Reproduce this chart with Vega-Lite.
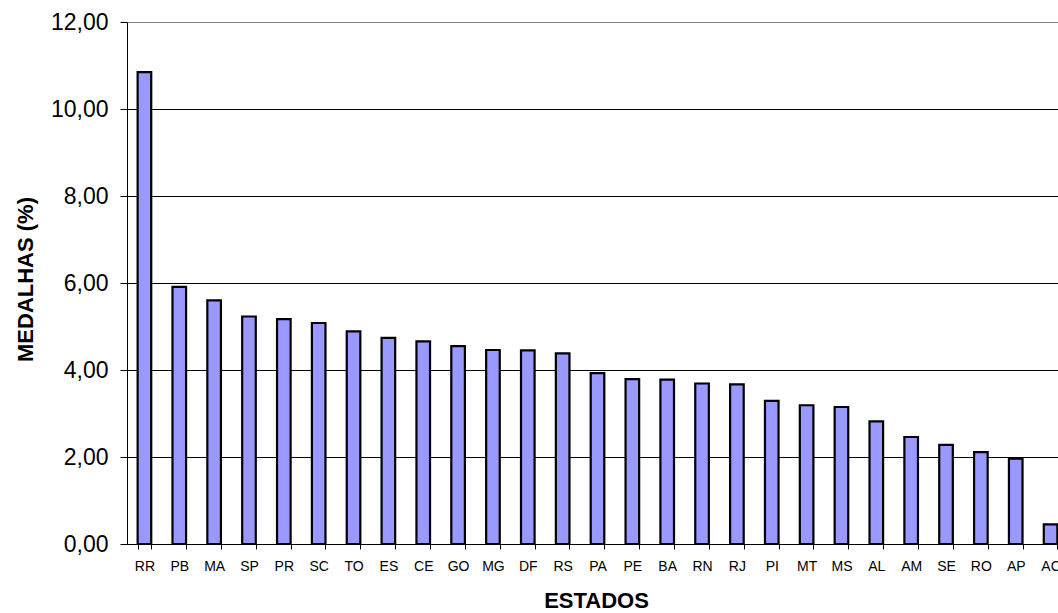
{
  "$schema": "https://vega.github.io/schema/vega-lite/v6.json",
  "width": 931,
  "height": 522,
  "autosize": {"type": "none"},
  "padding": {"left": 127, "top": 22, "right": 0, "bottom": 69},
  "background": "white",
  "view": {"stroke": null},
  "config": {"font": "Liberation Sans"},
  "data": {
    "values": [
      {"estado": "RR", "medalhas": 10.85},
      {"estado": "PB", "medalhas": 5.91},
      {"estado": "MA", "medalhas": 5.60},
      {"estado": "SP", "medalhas": 5.23},
      {"estado": "PR", "medalhas": 5.17},
      {"estado": "SC", "medalhas": 5.08},
      {"estado": "TO", "medalhas": 4.89},
      {"estado": "ES", "medalhas": 4.74},
      {"estado": "CE", "medalhas": 4.66},
      {"estado": "GO", "medalhas": 4.55},
      {"estado": "MG", "medalhas": 4.46},
      {"estado": "DF", "medalhas": 4.45},
      {"estado": "RS", "medalhas": 4.38},
      {"estado": "PA", "medalhas": 3.93},
      {"estado": "PE", "medalhas": 3.79},
      {"estado": "BA", "medalhas": 3.78},
      {"estado": "RN", "medalhas": 3.69},
      {"estado": "RJ", "medalhas": 3.67},
      {"estado": "PI", "medalhas": 3.29},
      {"estado": "MT", "medalhas": 3.19},
      {"estado": "MS", "medalhas": 3.15},
      {"estado": "AL", "medalhas": 2.82},
      {"estado": "AM", "medalhas": 2.46},
      {"estado": "SE", "medalhas": 2.28},
      {"estado": "RO", "medalhas": 2.11},
      {"estado": "AP", "medalhas": 1.96},
      {"estado": "AC", "medalhas": 0.45}
    ]
  },
  "mark": {"type": "bar", "fill": "#9999FF", "stroke": "black", "strokeWidth": 2.2, "clip": true},
  "encoding": {
    "x": {
      "field": "estado",
      "type": "nominal",
      "sort": null,
      "scale": {"range": [0, 941], "paddingInner": 0.61, "paddingOuter": 0.305},
      "axis": {
        "title": "ESTADOS",
        "labelAngle": 0,
        "labelFontSize": 14,
        "labelColor": "black",
        "labelPadding": 10,
        "tickBand": "extent",
        "tickSize": 5,
        "tickColor": "black",
        "domainColor": "black",
        "titleFontSize": 22,
        "titleFontWeight": "bold",
        "titleColor": "black",
        "titleX": 469,
        "titleY": 63,
        "titleBaseline": "alphabetic",
        "titleAlign": "center"
      }
    },
    "y": {
      "field": "medalhas",
      "type": "quantitative",
      "scale": {"domain": [0, 12], "nice": false},
      "axis": {
        "title": "MEDALHAS (%)",
        "values": [0, 2, 4, 6, 8, 10, 12],
        "labelExpr": "replace(format(datum.value, '.2f'), '.', ',')",
        "labelFontSize": 23,
        "labelColor": "black",
        "labelPadding": 12,
        "tickSize": 7,
        "tickColor": "black",
        "domainColor": "black",
        "grid": true,
        "gridColor": {"condition": {"test": "datum.value == 12", "value": "#808080"}, "value": "black"},
        "gridOpacity": 1,
        "gridWidth": 1,
        "titleFontSize": 22,
        "titleFontWeight": "bold",
        "titleColor": "black",
        "titleX": -95,
        "titleY": 257,
        "titleAngle": 270,
        "titleAlign": "center",
        "titleBaseline": "alphabetic"
      }
    }
  }
}
